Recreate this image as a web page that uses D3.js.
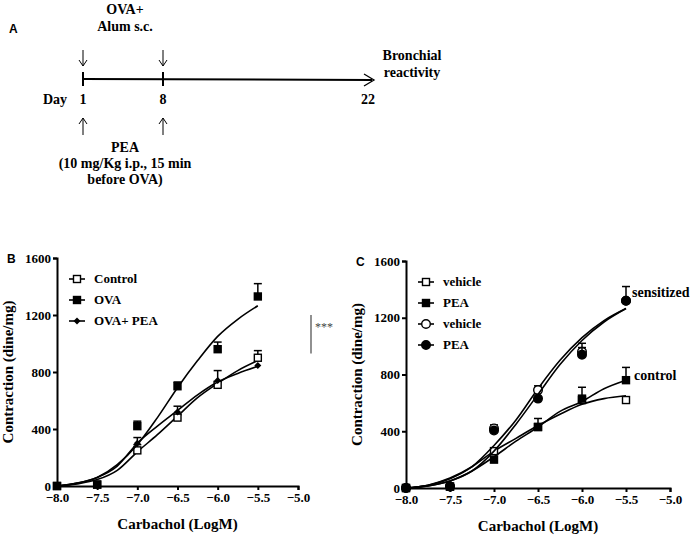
<!DOCTYPE html>
<html><head><meta charset="utf-8">
<script src="https://cdn.jsdelivr.net/npm/d3@7"></script>
<style>
body{margin:0;background:#fff}
text{font-family:"Liberation Serif",serif;font-weight:bold;fill:#000}
</style></head><body>
<svg id="fig" width="693" height="541"></svg>
<script>
const xTicks = [-8.0, -7.5, -7.0, -6.5, -6.0, -5.5, -5.0];
const yTicks = [0, 400, 800, 1200, 1600];
const doses = [-8.0, -7.5, -7.0, -6.5, -6.0, -5.5];
const fitX = [-8.0, -7.75, -7.5, -7.25, -7.0, -6.75, -6.5, -6.25, -6.0, -5.75, -5.5];

// panel B
const bControl = [0, 10, 250, 480, 710, 900];
const bControlErr = [0, 0, 290, 500, 730, 950];
const bOva = [0, 10, 420, 700, 960, 1330];
const bOvaErr = [0, 0, 455, 730, 1010, 1420];
const bOvaPea = [0, 10, 300, 520, 740, 845];
const bOvaPeaErr = [0, 0, 340, 560, 810, 845];
const bControlFit = [0, 15, 45, 110, 240, 360, 490, 620, 720, 810, 880];
const bOvaFit = [0, 20, 60, 150, 290, 480, 690, 880, 1050, 1170, 1265];
const bOvaPeaFit = [0, 20, 60, 140, 300, 420, 530, 640, 730, 790, 840];

// panel C
const cCtrlVeh = [0, 10, 260, 430, 620, 620];
const cCtrlVehErr = [0, 0, 280, 450, 640, 620];
const cCtrlPea = [0, 10, 200, 430, 630, 760];
const cCtrlPeaErr = [0, 0, 210, 490, 710, 850];
const cSensVeh = [0, 10, 420, 690, 960, 1320];
const cSensVehErr = [0, 0, 445, 720, 1020, 1320];
const cSensPea = [0, 10, 405, 630, 940, 1320];
const cSensPeaErr = [0, 0, 405, 630, 990, 1420];
const cCtrlVehFit = [0, 20, 70, 150, 260, 350, 440, 520, 590, 630, 650];
const cCtrlPeaFit = [0, 15, 50, 120, 220, 330, 430, 540, 610, 700, 760];
const cSensVehFit = [0, 20, 65, 150, 300, 480, 700, 900, 1060, 1180, 1265];
const cSensPeaFit = [0, 15, 50, 120, 260, 450, 660, 870, 1040, 1170, 1265];

const svg = d3.select("#fig");

// ---- panel A: timeline ----
svg.append("text").attr("x", 9).attr("y", 33).text("A")
  .style("font-family", "Liberation Sans,Arial").style("font-size", "12px");
const dayX = d3.scaleOrdinal().domain([1, 8, 22]).range([83, 163, 368]);
const A = svg.append("g").style("font-size", "14px");
A.append("line").attr("x1", dayX(1)).attr("x2", 372).attr("y1", 79).attr("y2", 80)
  .attr("stroke", "#000").attr("stroke-width", 2);
A.append("path").attr("d", "M364,74 L374,80 L364,86").attr("fill", "none").attr("stroke", "#000").attr("stroke-width", 1.3);
[1, 8].forEach(d => {
  const x = dayX(d);
  A.append("line").attr("x1", x).attr("x2", x).attr("y1", 72).attr("y2", 86).attr("stroke", "#000").attr("stroke-width", 2);
  A.append("line").attr("x1", x).attr("x2", x).attr("y1", 50).attr("y2", 66).attr("stroke", "#000");
  A.append("path").attr("d", `M${x-4},60 L${x},66 L${x+4},60`).attr("fill", "none").attr("stroke", "#000");
  A.append("line").attr("x1", x).attr("x2", x).attr("y1", 118).attr("y2", 135).attr("stroke", "#000");
  A.append("path").attr("d", `M${x-4},124 L${x},118 L${x+4},124`).attr("fill", "none").attr("stroke", "#000");
});
A.append("text").attr("x", 55).attr("y", 104).attr("text-anchor", "middle").text("Day");
[1, 8, 22].forEach(d => A.append("text").attr("x", dayX(d)).attr("y", 104).attr("text-anchor", "middle").text(d));
A.append("text").attr("x", 125).attr("y", 14).attr("text-anchor", "middle").text("OVA+");
A.append("text").attr("x", 125).attr("y", 31).attr("text-anchor", "middle").text("Alum s.c.");
A.append("text").attr("x", 412).attr("y", 60).attr("text-anchor", "middle").text("Bronchial");
A.append("text").attr("x", 412).attr("y", 77).attr("text-anchor", "middle").text("reactivity");
A.append("text").attr("x", 125).attr("y", 152).attr("text-anchor", "middle").text("PEA");
A.append("text").attr("x", 125).attr("y", 168).attr("text-anchor", "middle").text("(10 mg/Kg i.p., 15 min");
A.append("text").attr("x", 125).attr("y", 184).attr("text-anchor", "middle").text("before OVA)");

// ---- marker helpers ----
function marker(g, type, x, y) {
  if (type === "sqOpen" || type === "sqFill")
    g.append("rect").attr("x", x - 3.5).attr("y", y - 3.5).attr("width", 7).attr("height", 7)
      .attr("fill", type === "sqFill" ? "#000" : "#fff").attr("stroke", "#000").attr("stroke-width", 1.4);
  else if (type === "diamond")
    g.append("path").attr("d", `M${x},${y-3.5} L${x+3.5},${y} L${x},${y+3.5} L${x-3.5},${y}Z`).attr("fill", "#000");
  else
    g.append("circle").attr("cx", x).attr("cy", y).attr("r", 4.3)
      .attr("fill", type === "circFill" ? "#000" : "#fff").attr("stroke", "#000").attr("stroke-width", 1.4);
}

function panel(opt) {
  const x = d3.scaleLinear().domain([-8, -5]).range([opt.x0, opt.x1]);
  const y = d3.scaleLinear().domain([0, 1600]).range([opt.y0, opt.y1]);
  const g = svg.append("g");
  const styleAxis = a => {
    a.selectAll("path,line").attr("stroke-width", 2);
    a.attr("font-family", null).attr("font-size", null);
    a.selectAll("text").style("font-size", "13px");
  };
  g.append("g").attr("transform", `translate(0,${opt.y0})`)
    .call(d3.axisBottom(x).tickValues(xTicks).tickFormat(d3.format(".1f")).tickSize(4))
    .call(styleAxis);
  g.append("g").attr("transform", `translate(${opt.x0},0)`)
    .call(d3.axisLeft(y).tickValues(yTicks).tickFormat(d3.format("d")).tickSize(4).tickPadding(2))
    .call(styleAxis);
  g.append("text").attr("x", (opt.x0 + opt.x1) / 2).attr("y", opt.y0 + 43).attr("text-anchor", "middle")
    .style("font-size", "15px").text("Carbachol (LogM)");
  g.append("text").attr("transform", `translate(${opt.x0 - 44},${(opt.y0 + opt.y1) / 2}) rotate(-90)`)
    .attr("text-anchor", "middle").style("font-size", "15px").text("Contraction (dine/mg)");
  g.append("text").attr("x", opt.x0 - 50).attr("y", opt.y1 + 5).text(opt.label)
    .style("font-family", "Liberation Sans,Arial").style("font-size", "12px");
  const line = d3.line().x((d, i) => x(fitX[i])).y(d => y(d)).curve(d3.curveMonotoneX);
  opt.series.forEach(s => {
    g.append("path").datum(s.fit).attr("d", line).attr("fill", "none").attr("stroke", "#000").attr("stroke-width", 1.6);
    s.vals.forEach((v, i) => {
      if (s.err[i] > v) {
        g.append("line").attr("x1", x(doses[i])).attr("x2", x(doses[i])).attr("y1", y(v)).attr("y2", y(s.err[i])).attr("stroke", "#000").attr("stroke-width", 1.5);
        g.append("line").attr("x1", x(doses[i]) - 4).attr("x2", x(doses[i]) + 4).attr("y1", y(s.err[i])).attr("y2", y(s.err[i])).attr("stroke", "#000").attr("stroke-width", 1.5);
      }
    });
    s.vals.forEach((v, i) => marker(g, s.type, x(doses[i]), y(v)));
  });
  opt.series.forEach((s, i) => {
    const ly = opt.y1 + 21 + i * opt.legStep, lx = opt.x0 + 20;
    g.append("line").attr("x1", lx - 8).attr("x2", lx + 8).attr("y1", ly).attr("y2", ly).attr("stroke", "#000").attr("stroke-width", 1.6);
    marker(g, s.type, lx, ly);
    g.append("text").attr("x", lx + 17).attr("y", ly + 4).style("font-size", "13px").text(s.name);
  });
  return { g, x, y };
}

const B = panel({ x0: 57, x1: 298, y0: 486, y1: 258, label: "B", legStep: 21, series: [
  { name: "Control", type: "sqOpen", vals: bControl, err: bControlErr, fit: bControlFit },
  { name: "OVA", type: "sqFill", vals: bOva, err: bOvaErr, fit: bOvaFit },
  { name: "OVA+ PEA", type: "diamond", vals: bOvaPea, err: bOvaPeaErr, fit: bOvaPeaFit }
]});
B.g.append("line").attr("x1", 311).attr("x2", 311).attr("y1", B.y(1200)).attr("y2", B.y(930)).attr("stroke", "#555").attr("stroke-width", 1.3);
B.g.append("text").attr("x", 315).attr("y", B.y(1090)).style("font-size", "12px").style("font-weight", "normal").style("fill", "#444").text("***");

const C = panel({ x0: 406, x1: 670, y0: 488, y1: 261, label: "C", legStep: 21, series: [
  { name: "vehicle", type: "sqOpen", vals: cCtrlVeh, err: cCtrlVehErr, fit: cCtrlVehFit },
  { name: "PEA", type: "sqFill", vals: cCtrlPea, err: cCtrlPeaErr, fit: cCtrlPeaFit },
  { name: "vehicle", type: "circOpen", vals: cSensVeh, err: cSensVehErr, fit: cSensVehFit },
  { name: "PEA", type: "circFill", vals: cSensPea, err: cSensPeaErr, fit: cSensPeaFit }
]});
C.g.append("text").attr("x", 632).attr("y", C.y(1345)).style("font-size", "14px").text("sensitized");
C.g.append("text").attr("x", 634).attr("y", C.y(760)).style("font-size", "14px").text("control");
</script></body></html>
